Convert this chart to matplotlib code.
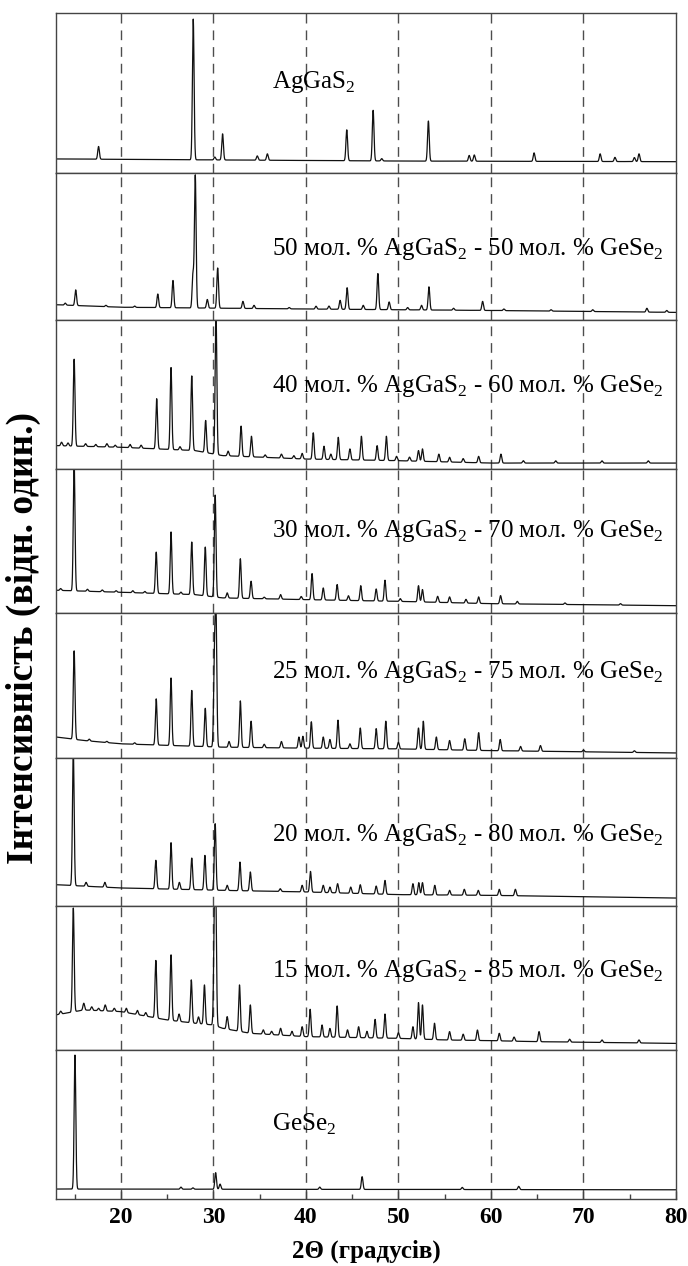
import numpy as np
import matplotlib
matplotlib.use("Agg")
import matplotlib.pyplot as plt

plt.rcParams['font.family'] = ['Liberation Serif', 'DejaVu Serif']
plt.rcParams['mathtext.fontset'] = 'custom'
plt.rcParams['mathtext.rm'] = 'Liberation Serif'

# panel labels, top to bottom
labels = [
    r"AgGaS$_{\mathrm{2}}$",
    r"50 мол. % AgGaS$_{\mathrm{2}}$ - 50 мол. % GeSe$_{\mathrm{2}}$",
    r"40 мол. % AgGaS$_{\mathrm{2}}$ - 60 мол. % GeSe$_{\mathrm{2}}$",
    r"30 мол. % AgGaS$_{\mathrm{2}}$ - 70 мол. % GeSe$_{\mathrm{2}}$",
    r"25 мол. % AgGaS$_{\mathrm{2}}$ - 75 мол. % GeSe$_{\mathrm{2}}$",
    r"20 мол. % AgGaS$_{\mathrm{2}}$ - 80 мол. % GeSe$_{\mathrm{2}}$",
    r"15 мол. % AgGaS$_{\mathrm{2}}$ - 85 мол. % GeSe$_{\mathrm{2}}$",
    r"GeSe$_{\mathrm{2}}$",
]
label_y = [0.57, 0.48, 0.56, 0.57, 0.59, 0.48, 0.55, 0.50]

# background level (fraction of panel height)
base_x1 = [13, 30, 50, 80]
base_y1 = [0.088, 0.082, 0.075, 0.071]
base_x2 = [13, 20, 40, 60, 80]
base_y2 = [0.104, 0.087, 0.075, 0.065, 0.052]
base_x3 = [13, 20, 28, 31, 40, 50, 60, 80]
base_y3 = [0.157, 0.146, 0.124, 0.09, 0.067, 0.056, 0.04, 0.04]
base_x4 = [13, 20, 28, 31, 40, 50, 60, 80]
base_y4 = [0.158, 0.144, 0.128, 0.105, 0.093, 0.081, 0.065, 0.051]
base_x5 = [13, 16, 20, 31, 40, 50, 60, 80]
base_y5 = [0.145, 0.121, 0.098, 0.075, 0.068, 0.063, 0.051, 0.035]
base_x6 = [13, 20, 31, 40, 50, 60, 80]
base_y6 = [0.144, 0.122, 0.106, 0.095, 0.077, 0.072, 0.054]
base_x7 = [13, 16, 20, 25, 28, 30, 31, 34, 40, 50, 55, 60, 65, 80]
base_y7 = [0.244, 0.278, 0.267, 0.209, 0.186, 0.174, 0.151, 0.116, 0.093, 0.081, 0.07, 0.065, 0.058, 0.046]
base_x8 = [13, 80]
base_y8 = [0.067, 0.062]

# peak positions (2theta) and peak tops (fraction of panel height)
pk_x1 = [17.6, 27.83, 30.16, 31.0, 34.75, 35.84, 44.42, 47.27, 48.2, 53.24, 57.65, 58.2, 64.66, 71.8, 73.4, 75.5, 76.0]
pk_y1 = [0.166, 0.962, 0.10, 0.245, 0.107, 0.12, 0.27, 0.392, 0.09, 0.325, 0.11, 0.113, 0.126, 0.12, 0.098, 0.097, 0.12]

pk_x2 = [14.0, 15.13, 18.4, 21.5, 24.0, 25.64, 27.8, 28.05, 29.35, 30.47, 33.2, 34.4, 38.2, 41.1,
         42.5, 43.7, 44.46, 46.2, 47.78, 49.0, 51.0, 52.5, 53.3, 55.96, 59.1, 61.4, 66.5, 71.0, 76.85, 79.0]
pk_y2 = [0.115, 0.205, 0.10, 0.095, 0.177, 0.269, 0.31, 0.983, 0.14, 0.354, 0.127, 0.10, 0.085, 0.094,
         0.095, 0.134, 0.22, 0.10, 0.316, 0.123, 0.085, 0.10, 0.226, 0.08, 0.127, 0.075, 0.07, 0.07, 0.08, 0.065]

pk_x3 = [13.6, 14.3, 14.96, 16.2, 17.3, 18.5, 19.4, 21.0, 22.2, 23.88, 25.43, 26.4, 27.67, 29.17, 30.29,
         31.6, 33.0, 34.12, 35.6, 37.36, 38.7, 39.6, 40.8, 41.96, 42.7, 43.5, 44.76, 46.0, 47.7, 48.7,
         49.8, 51.2, 52.17, 52.6, 54.37, 55.53, 57.0, 58.67, 61.08, 63.5, 67.0, 72.0, 77.0]
pk_y3 = [0.18, 0.175, 0.737, 0.17, 0.165, 0.17, 0.16, 0.165, 0.16, 0.472, 0.681, 0.15, 0.625, 0.326, 1.05,
         0.12, 0.288, 0.22, 0.095, 0.10, 0.09, 0.105, 0.243, 0.153, 0.10, 0.213, 0.135, 0.22, 0.157, 0.22,
         0.085, 0.08, 0.124, 0.135, 0.10, 0.079, 0.07, 0.085, 0.10, 0.056, 0.055, 0.055, 0.055]

pk_x4 = [13.5, 14.96, 16.4, 18.0, 19.5, 21.3, 22.6, 23.83, 25.43, 26.5, 27.67, 29.13, 30.2, 31.5, 32.92,
         34.08, 35.5, 37.27, 39.5, 40.67, 41.88, 43.38, 44.6, 45.93, 47.6, 48.55, 50.2, 52.17, 52.6,
         54.24, 55.53, 57.3, 58.67, 61.04, 62.85, 68.0, 74.0]
pk_y4 = [0.17, 1.05, 0.165, 0.16, 0.155, 0.155, 0.15, 0.423, 0.563, 0.145, 0.493, 0.458, 0.819, 0.14, 0.377,
         0.221, 0.11, 0.128, 0.115, 0.274, 0.174, 0.198, 0.12, 0.19, 0.167, 0.228, 0.10, 0.19, 0.163,
         0.116, 0.112, 0.095, 0.112, 0.121, 0.081, 0.07, 0.065]

pk_x5 = [14.96, 16.6, 18.5, 21.5, 23.83, 25.43, 27.67, 29.13, 30.12, 30.29, 31.7, 32.92, 34.08, 35.5,
         37.36, 39.25, 39.68, 40.59, 41.88, 42.6, 43.47, 44.76, 45.88, 47.6, 48.64, 50.0, 52.17, 52.69,
         54.1, 55.53, 57.17, 58.67, 61.0, 63.2, 65.35, 70.0, 75.5]
pk_y5 = [0.739, 0.13, 0.115, 0.105, 0.408, 0.552, 0.466, 0.343, 0.65, 0.96, 0.114, 0.394, 0.254, 0.095,
         0.114, 0.145, 0.15, 0.25, 0.145, 0.128, 0.261, 0.098, 0.207, 0.203, 0.254, 0.11, 0.207, 0.254,
         0.145, 0.121, 0.133, 0.175, 0.128, 0.08, 0.086, 0.055, 0.05]

pk_x6 = [14.87, 16.25, 18.28, 23.79, 25.43, 26.33, 27.67, 29.09, 30.2, 31.5, 32.88, 34.0, 37.23, 39.6,
         40.5, 41.88, 42.6, 43.43, 44.85, 45.88, 47.6, 48.55, 51.57, 52.2, 52.6, 53.93, 55.53, 57.12,
         58.63, 60.9, 62.64]
pk_y6 = [1.05, 0.16, 0.16, 0.309, 0.428, 0.16, 0.324, 0.342, 0.556, 0.14, 0.297, 0.23, 0.117, 0.14,
         0.234, 0.14, 0.128, 0.151, 0.128, 0.144, 0.135, 0.173, 0.151, 0.158, 0.158, 0.14, 0.106, 0.113,
         0.106, 0.113, 0.113]

pk_x7 = [13.5, 14.87, 16.0, 16.86, 17.6, 18.32, 19.3, 20.6, 21.8, 22.7, 23.79, 25.43, 26.3, 27.62,
         28.4, 29.04, 30.12, 30.25, 31.5, 32.83, 34.0, 35.4, 36.3, 37.27, 38.5, 39.6, 40.46, 41.75,
         42.6, 43.38, 44.5, 45.7, 46.6, 47.48, 48.55, 50.0, 51.57, 52.17, 52.6, 53.9, 55.53, 57.0,
         58.54, 60.9, 62.5, 65.2, 68.5, 72.0, 76.0]
pk_y7 = [0.27, 0.986, 0.325, 0.30, 0.29, 0.313, 0.29, 0.29, 0.275, 0.26, 0.622, 0.661, 0.25, 0.487,
         0.23, 0.452, 0.80, 1.05, 0.232, 0.452, 0.313, 0.14, 0.13, 0.151, 0.13, 0.162, 0.283, 0.174,
         0.15, 0.306, 0.14, 0.162, 0.13, 0.213, 0.25, 0.12, 0.162, 0.329, 0.313, 0.186, 0.128, 0.11,
         0.139, 0.116, 0.09, 0.128, 0.075, 0.07, 0.07]

pk_x8 = [15.05, 26.5, 27.8, 30.25, 30.73, 41.5, 46.08, 56.9, 63.0]
pk_y8 = [0.966, 0.08, 0.075, 0.177, 0.10, 0.08, 0.15, 0.078, 0.085]

bases = [(base_x1, base_y1), (base_x2, base_y2), (base_x3, base_y3), (base_x4, base_y4),
         (base_x5, base_y5), (base_x6, base_y6), (base_x7, base_y7), (base_x8, base_y8)]
peaks = [(pk_x1, pk_y1), (pk_x2, pk_y2), (pk_x3, pk_y3), (pk_x4, pk_y4),
         (pk_x5, pk_y5), (pk_x6, pk_y6), (pk_x7, pk_y7), (pk_x8, pk_y8)]

# grid for drawing the peak profiles
two_theta = np.linspace(13, 80, 6701)
sigma = 0.09


def pattern(bx, by, px, py):
    bg = np.interp(two_theta, bx, by)
    y = bg.copy()
    for p, top in zip(px, py):
        amp = top - np.interp(p, bx, by)
        y += amp * np.exp(-0.5 * ((two_theta - p) / sigma) ** 2)
    return y


fig = plt.figure(figsize=(6.88, 12.66), dpi=100)
gs = fig.add_gridspec(8, 1, height_ratios=[160, 147, 149, 144, 145, 148, 144, 149],
                      hspace=0, left=0.0814, right=0.9826, top=0.9897, bottom=0.0529)

for i in range(8):
    ax = fig.add_subplot(gs[i])
    bx, by = bases[i]
    px, py = peaks[i]
    for xv in [20, 30, 40, 50, 60, 70]:
        ax.axvline(xv, color='#4d4d4d', lw=1.0, ls=(0, (7, 5)), zorder=1)
    ax.plot(two_theta, pattern(bx, by, px, py), color='#111111', lw=0.9, zorder=2)
    ax.text(36.3, label_y[i], labels[i], fontsize=18, va='center', ha='left', color='black', zorder=3)
    ax.set_xlim(13, 80)
    ax.set_ylim(0, 1)
    ax.set_yticks([])
    for s in ax.spines.values():
        s.set_color('#444444')
        s.set_linewidth(1.0)
    if i < 7:
        ax.set_xticks([])
    else:
        ax.set_xticks([20, 30, 40, 50, 60, 70, 80])
        ax.set_xticks([15, 25, 35, 45, 55, 65, 75], minor=True)
        ax.tick_params(axis='x', which='major', direction='in', length=6, width=1.0,
                       labelsize=17, pad=6, color='#444444')
        ax.tick_params(axis='x', which='minor', direction='in', length=3.5, width=1.0, color='#444444')
        for t in ax.get_xticklabels():
            t.set_fontweight('bold')
        ax.set_xlabel("2Θ (градусів)", fontsize=18, fontweight='bold', labelpad=8)

fig.text(23 / 688, 1 - 638 / 1266, "Інтенсивність (відн. один.)", rotation=90,
         fontsize=27, fontweight='bold', va='center', ha='center')

fig.savefig("out.png", dpi=100)
